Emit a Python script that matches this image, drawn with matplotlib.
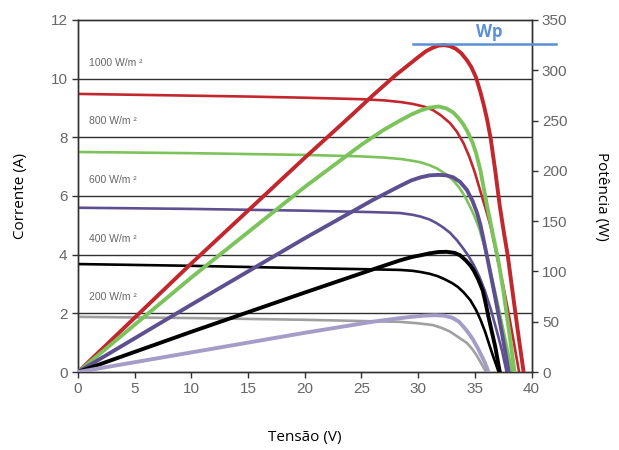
import matplotlib
matplotlib.use("Agg")
import matplotlib.pyplot as plt

# irradiance levels
levels = ["1000 W/m ²", "800 W/m ²", "600 W/m ²", "400 W/m ²", "200 W/m ²"]
label_pos = [10.55, 8.55, 6.55, 4.55, 2.55]

# I-V curves (voltage V, current A)
iv_v_1000 = [0, 5, 10, 15, 20, 25, 27, 28.5, 29.5, 30.5, 31.3, 32, 32.8, 33.4, 34, 34.5,
             35, 35.5, 36, 36.4, 37, 37.5, 38, 38.4, 38.9]
iv_i_1000 = [9.48, 9.45, 9.42, 9.39, 9.35, 9.30, 9.26, 9.20, 9.14, 9.05, 8.93, 8.75, 8.49,
             8.20, 7.80, 7.35, 6.80, 6.15, 5.50, 4.95, 3.85, 2.95, 1.95, 1.10, 0]

iv_v_800 = [0, 10, 20, 25, 27, 28.5, 29.5, 30.2, 31, 31.7, 32.3, 33, 33.6, 34.1, 34.6, 35.0,
            35.4, 35.9, 36.4, 36.9, 37.4, 37.9, 38.3]
iv_i_800 = [7.50, 7.46, 7.40, 7.35, 7.31, 7.26, 7.20, 7.15, 7.05, 6.93, 6.78, 6.57, 6.30,
            6.00, 5.62, 5.28, 4.88, 4.20, 3.40, 2.55, 1.65, 0.75, 0]

iv_v_600 = [0, 10, 20, 26, 28.4, 29.5, 30.2, 31, 31.6, 32.2, 32.8, 33.4, 33.9, 34.4, 34.9,
            35.4, 35.9, 36.4, 36.9, 37.4, 37.8]
iv_i_600 = [5.60, 5.56, 5.50, 5.45, 5.42, 5.36, 5.30, 5.20, 5.08, 4.93, 4.75, 4.50, 4.25,
            3.98, 3.65, 3.25, 2.75, 2.15, 1.45, 0.72, 0]

iv_v_400 = [0, 10, 20, 26, 28.4, 29.5, 30.2, 31, 31.7, 32.3, 33, 33.5, 34, 34.6, 35.1, 35.5,
            35.9, 36.2, 36.6, 37.1]
iv_i_400 = [3.68, 3.62, 3.54, 3.50, 3.48, 3.45, 3.41, 3.35, 3.27, 3.17, 3.03, 2.90, 2.72,
            2.45, 2.12, 1.78, 1.38, 1.02, 0.55, 0]

iv_v_200 = [0, 10, 20, 26, 28.4, 30, 31.3, 32.1, 32.8, 33.5, 34.3, 34.8, 35.2, 35.6, 36.0]
iv_i_200 = [1.88, 1.84, 1.78, 1.73, 1.71, 1.66, 1.60, 1.50, 1.38, 1.20, 0.99, 0.77, 0.54,
            0.27, 0]

# P-V curves (voltage V, power W)
pv_v_1000 = [0, 10, 20, 24, 26, 28, 29, 30, 30.7, 31.3, 31.8, 32.3, 32.8, 33.3, 33.8, 34.3,
             34.7, 35.1, 35.5, 35.8, 36.1, 36.4, 36.8, 37.2, 37.6, 37.9, 38.3, 38.8, 39.3]
pv_p_1000 = [0, 108, 213, 254, 275, 295, 304, 313, 319, 322.5, 324.5, 325, 324, 321.5, 317,
             310, 303, 293, 278, 265, 250, 232, 200, 165, 136, 116, 82, 40, 0]

pv_v_800 = [0, 10, 20, 25, 27, 28.4, 29.4, 30.2, 31, 31.8, 32.5, 33.1, 33.6, 34.0,
            34.4, 34.8, 35.1, 35.5, 35.8, 36.1, 36.7, 37.1, 37.5, 38.0, 38.5]
pv_p_800 = [0, 94, 184, 226, 241, 250, 256, 260, 262.8, 264, 262, 258, 252, 246,
            238, 228, 218, 200, 182, 164, 131, 109, 82, 42, 0]

pv_v_600 = [0, 10, 20, 26, 28.4, 29.4, 30.2, 31, 31.8, 32.5, 33.1, 33.7, 34.3, 34.8,
            35.2, 35.5, 35.8, 36.2, 36.8, 37.4, 38.0]
pv_p_600 = [0, 67, 133, 171, 185, 190.5, 193.5, 195.5, 196, 195.5, 193.5, 189, 181,
            170, 158, 146, 130, 108, 74, 38, 0]

pv_v_400 = [0, 10, 20, 26, 28.4, 29.5, 30.2, 31, 31.8, 32.5, 33.2, 33.7, 34.2, 34.6,
            34.9, 35.3, 35.7, 36.0, 36.2, 36.5, 36.8, 37.2]
pv_p_400 = [0, 40, 79, 102, 111, 114.5, 116, 118, 119.3, 119.5, 118.5, 116, 111, 106,
            101, 92, 81, 66, 55, 40, 25, 0]

pv_v_200 = [0, 10, 20, 26, 28, 29.5, 30.5, 31.5, 32.3, 33, 33.6, 34.0, 34.3, 34.8,
            35.2, 35.6, 35.9, 36.2]
pv_p_200 = [0, 19.5, 39, 50, 53, 55, 56, 56.5, 56, 54, 50, 45, 41, 33, 25, 16, 9, 0]

wp_value = 326
wp_span = [29.55, 42.15]

iv_curves = [(iv_v_1000, iv_i_1000), (iv_v_800, iv_i_800), (iv_v_600, iv_i_600),
             (iv_v_400, iv_i_400), (iv_v_200, iv_i_200)]
pv_curves = [(pv_v_1000, pv_p_1000), (pv_v_800, pv_p_800), (pv_v_600, pv_p_600),
             (pv_v_400, pv_p_400), (pv_v_200, pv_p_200)]
iv_colors = ["#c1272d", "#7cc35b", "#5e5090", "#000000", "#a0a0a0"]
pv_colors = ["#c1272d", "#7cc35b", "#5e5090", "#000000", "#a59cc8"]

tick_color = "#666666"

fig = plt.figure(figsize=(6.19, 4.5), dpi=100)
ax = fig.add_axes([0.126, 0.1733, 0.7327, 0.7823])
ax2 = ax.twinx()

ax.set_xlim(0, 40)
ax.set_ylim(0, 12)
ax2.set_ylim(0, 350)
ax.set_xticks(range(0, 41, 5))
ax.set_yticks(range(0, 13, 2))
ax2.set_yticks(range(0, 351, 50))

# horizontal grid at current ticks
for y in range(2, 12, 2):
    ax.axhline(y, color="#303030", lw=1.0, zorder=1)

for (v, i), c in zip(iv_curves, iv_colors):
    ax.plot(v, i, color=c, lw=1.9, zorder=3, solid_joinstyle="round")
for (v, p), c in zip(pv_curves, pv_colors):
    ax2.plot(v, p, color=c, lw=2.8, zorder=3, solid_joinstyle="round")

for txt, y in zip(levels, label_pos):
    ax.text(1.0, y, txt, fontsize=7.5, color="#666666", family="Liberation Sans",
            va="center", ha="left")

# peak power marker
ax2.plot(wp_span, [wp_value, wp_value], color="#5b8fd6", lw=1.8, clip_on=False, zorder=5)
ax2.text(36.3, 338, "Wp", color="#5b8fd6", fontsize=12, fontweight="bold",
         family="Open Sans", ha="center", va="center")

for a in (ax, ax2):
    for s in a.spines.values():
        s.set_color("#303030")
        s.set_linewidth(1.0)
    a.tick_params(colors="#303030", labelcolor=tick_color, labelsize=11, length=4, width=1)
    for lbl in a.get_xticklabels() + a.get_yticklabels():
        lbl.set_family("Liberation Sans")

ax.set_xlabel("Tensão (V)", fontsize=11, family="Open Sans", labelpad=24)
ax.set_ylabel("Corrente (A)", fontsize=11, family="Open Sans", labelpad=16)
ax2.set_ylabel("Potência (W)", fontsize=11, family="Open Sans", rotation=-90, labelpad=30)

fig.savefig("out.png", dpi=100)
